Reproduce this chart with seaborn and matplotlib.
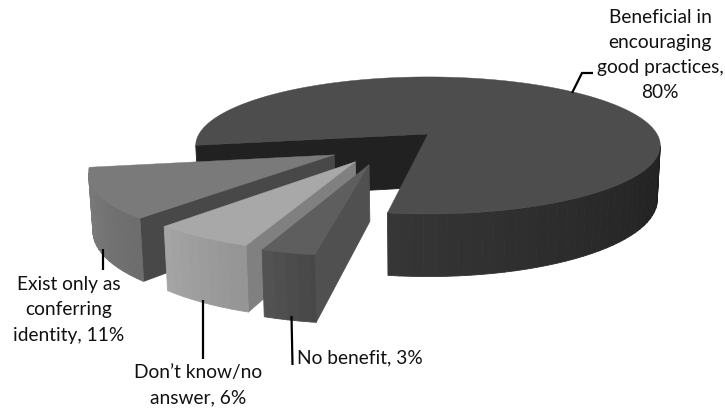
import numpy as np
import matplotlib
matplotlib.use("Agg")
import matplotlib.pyplot as plt
from matplotlib.patches import Polygon
import seaborn as sns

# Survey shares, in drawing order (clockwise from the large slice's far edge)
categories = ["Beneficial in\nencouraging\ngood practices,",
              "Exist only as\nconferring\nidentity,",
              "Don\u2019t know/no\nanswer,",
              "No benefit,"]
shares = [80, 11, 6, 3]

# Greys for each slice: top face, inner wall, rim gradient ends
top_grey = ["#4d4d4d", "#7a7a7a", "#a8a8a8", "#5e5e5e"]
wall_grey = ["#212121", "#484848", "#808080", "#505050"]
rim_near = [0x36, 0x6c, 0x94, 0x46]
rim_far = [0x20, 0x7c, 0xa4, 0x52]
exploded = [0.0, 0.49, 0.49, 0.49]
radii = [1.0, 0.99, 0.975, 0.975]
band_width = 2.5  # degrees covered by one flat band on the rim

sns.set_theme(style="white")
plt.rcParams["font.family"] = ["Lato", "DejaVu Sans"]

# Perspective view of the pie's ground plane
CX, CY, RX, RY, K, DEPTH, TAPER = 428.0, 134.0, 229.0, 66.6, 0.167, 53.0, 0.013
GAP_END = 261.5


def project(u, v, z=0.0):
    w = 1 + K * v
    s = 1 - TAPER * z
    return CX + RX * u / w * s, CY - RY * v / w * s + DEPTH * z / w


def faces_camera(px, py, nx, ny):
    return (0 - px) * nx + (-1 / K - py) * ny > 0


def wall(ax, chain, colour):
    """Fill the vertical wall hanging below a chain of ground-plane points."""
    pts = [project(*p) for p in chain] + [project(*p, 1) for p in reversed(chain)]
    ax.add_patch(Polygon(pts, closed=True, fc=colour, ec=colour, lw=0.6, joinstyle="round"))


def draw_slice(ax, start, sweep, i):
    """Draw one slice between start and start+sweep degrees, walls before top."""
    gap_mid = GAP_END - sum(shares[1:]) * 1.8
    mid = start + sweep / 2
    # Exploded slices move along a direction pulled towards the gap's middle
    direction = np.radians(gap_mid + 0.5 * (mid - gap_mid))
    ox = exploded[i] * np.cos(direction)
    oy = exploded[i] * np.sin(direction)
    r = radii[i]
    tip = (ox, oy)

    angles = np.radians(np.arange(start, start + sweep + 0.25, 0.5))
    rim = [(ox + r * np.cos(t), oy + r * np.sin(t)) for t in angles]

    # Flat cut faces
    a0, a1 = angles[0], angles[-1]
    n0 = (np.sin(a0), -np.cos(a0))
    n1 = (-np.sin(a1), np.cos(a1))
    if faces_camera(ox, oy, *n0):
        wall(ax, [tip, rim[0]], wall_grey[i])
    if faces_camera(ox, oy, *n1):
        wall(ax, [tip, rim[-1]], wall_grey[i])

    # Outer rim, in narrow vertical bands running from the near end to the far end
    visible = [j for j, t in enumerate(angles)
               if faces_camera(*rim[j], np.cos(t), np.sin(t))]
    first, last = visible[0], visible[-1]
    band = max(2, int(band_width / 0.5))
    for j in range(first, last, band):
        f = (j - first) / max(1, last - first)
        # The near end is the high-angle side on small slices, low on the big one
        g = f if i == 0 else 1 - f
        level = int(rim_near[i] + (rim_far[i] - rim_near[i]) * g)
        wall(ax, rim[j:min(j + band + 1, last + 1)], f"#{level:02x}{level:02x}{level:02x}")

    # Top face
    outline = [project(*tip)] + [project(*p) for p in rim]
    ax.add_patch(Polygon(outline, closed=True, fc=top_grey[i], ec=top_grey[i], lw=0.3))


fig, ax = plt.subplots(figsize=(7.25, 4.08), dpi=100)
fig.subplots_adjust(0, 0, 1, 1)
ax.set_xlim(0, 725)
ax.set_ylim(408, 0)
ax.axis("off")

# The large slice runs from the gap's near edge round to its far edge
sweeps = [s * 3.6 for s in shares]
start_big = GAP_END
draw_slice(ax, start_big, sweeps[0], 0)
angle = start_big + sweeps[0] - 360
for idx in range(1, len(shares)):
    draw_slice(ax, angle, sweeps[idx], idx)
    angle += sweeps[idx]

# Leader lines
leader_x = [[572, 582, 593], [103.5, 103.5], [203, 203], [291.5, 292.5]]
leader_y = [[93, 73, 73], [249, 270], [300, 359], [316, 365]]
for lx, ly in zip(leader_x, leader_y):
    ax.plot(lx, ly, color="black", lw=1.6, solid_joinstyle="miter", solid_capstyle="butt")

# Data labels
label_pos = [(660, 55, "center"), (69, 310, "center"), (198, 385, "center"), (297, 358, "left")]
for name, val, (x, y, ha) in zip(categories, shares, label_pos):
    sep = "\n" if name.endswith("practices,") else " "
    ax.text(x, y, f"{name}{sep}{val}%", ha=ha, va="center", ma="center",
            fontsize=13.8, color="#111111", linespacing=1.58)

fig.savefig("out.png", dpi=100)
